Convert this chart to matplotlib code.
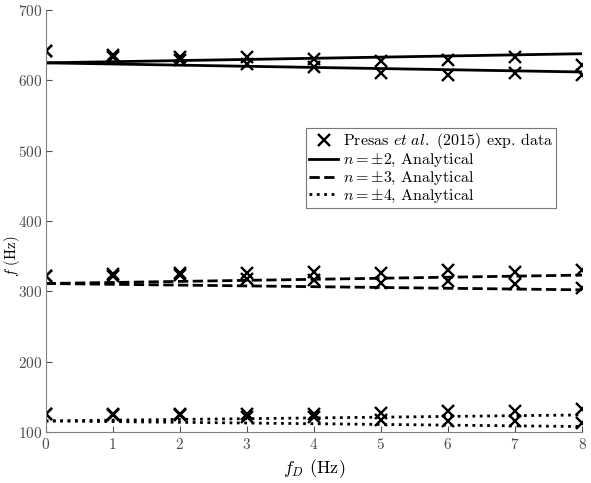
import matplotlib.pyplot as plt
import numpy as np

plt.rcParams['font.family'] = 'serif'
plt.rcParams['font.serif'] = ['cmr10']
plt.rcParams['mathtext.fontset'] = 'cm'
plt.rcParams['axes.unicode_minus'] = False
plt.rcParams['axes.formatter.use_mathtext'] = True

# experimental data (Presas et al. 2015)
f_D = [0, 1, 2, 3, 4, 5, 6, 7, 8]
exp_n2_up = [642, 636, 634, 633, 630, 627, 629, 634, 622]
exp_n2_lo = [642, 633, 629, 623, 619, 611, 608, 611, 608]
exp_n3_up = [321, 324, 326, 326, 328, 326, 330, 328, 330]
exp_n3_lo = [321, 322, 323, 318, 316, 312, 314, 310, 305]
exp_n4_up = [126, 125, 126, 125, 126, 127, 129, 130, 132]
exp_n4_lo = [126, 124, 124, 121, 121, 117, 116, 116, 113]

# analytical curves (straight lines between end points)
f_line = [0, 8]
ana_n2_up = [625, 638]
ana_n2_lo = [625, 612]
ana_n3_up = [311, 323]
ana_n3_lo = [311, 302]
ana_n4_up = [115.5, 124]
ana_n4_lo = [115.5, 107.5]

fig = plt.figure(figsize=(5.91, 4.83), dpi=100)
ax = fig.add_axes([0.077, 0.106, 0.908, 0.873])

mk = dict(marker='x', color='k', linestyle='none', markersize=9, markeredgewidth=1.7)
ax.plot(f_D, exp_n2_up, label=r'Presas $\mathit{et\ al.}$ (2015) exp. data', **mk)
for y in [exp_n2_lo, exp_n3_up, exp_n3_lo, exp_n4_up, exp_n4_lo]:
    ax.plot(f_D, y, **mk)

ax.plot(f_line, ana_n2_up, 'k-', lw=2, label=r'$n = \pm2$, Analytical')
ax.plot(f_line, ana_n2_lo, 'k-', lw=2)
ax.plot(f_line, ana_n3_up, 'k--', lw=2, label=r'$n = \pm3$, Analytical')
ax.plot(f_line, ana_n3_lo, 'k--', lw=2)
ax.plot(f_line, ana_n4_up, 'k:', lw=2, label=r'$n = \pm4$, Analytical')
ax.plot(f_line, ana_n4_lo, 'k:', lw=2)

ax.set_xlim(0, 8)
ax.set_ylim(100, 700)
ax.set_xticks(range(0, 9))
ax.set_yticks(range(100, 701, 100))
ax.spines['top'].set_visible(False)
ax.spines['right'].set_visible(False)
for s in ['left', 'bottom']:
    ax.spines[s].set_color('#808080')
ax.tick_params(direction='in', colors='#4d4d4d', labelsize=11, length=4)
ax.tick_params(axis='y', pad=2)
ax.set_xlabel(r'$f_D$ (Hz)', fontsize=13)
# y label placed between the 300 and 400 tick labels so it does not collide
fig.text(2 / 591, 1 - 256 / 483, r'$f$ (Hz)', fontsize=10.5, rotation=90,
         ha='left', va='center')

leg = ax.legend(loc='upper right', bbox_to_anchor=(0.952, 0.72), fontsize=11.5,
                frameon=True, fancybox=False, edgecolor='#555555',
                borderpad=0.2, labelspacing=0.05, handlelength=1.8,
                handletextpad=0.3, borderaxespad=0)
leg.get_frame().set_linewidth(0.8)

fig.savefig('out.png', dpi=100)
